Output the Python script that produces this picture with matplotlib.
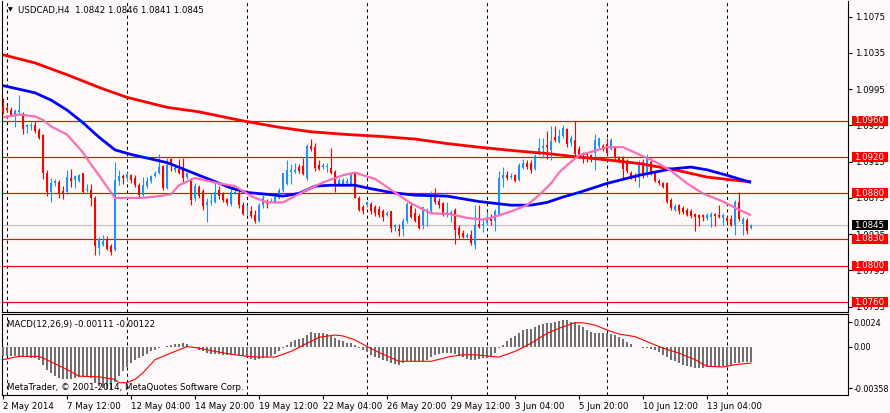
import numpy as np
import matplotlib.pyplot as plt
from matplotlib.patches import Rectangle
import matplotlib.transforms as mtransforms

# ---- candle data (USDCAD H4), bar 0 = 2 May 2014 ----
opens = [1.0975, 1.0974, 1.0972, 1.0967, 1.0970, 1.0968, 1.0953, 1.0954, 1.0956, 1.0950,
         1.0944, 1.0903, 1.0882, 1.0892, 1.0893, 1.0883, 1.0882, 1.0897, 1.0895, 1.0894,
         1.0902, 1.0884, 1.0884, 1.0875, 1.0820, 1.0823, 1.0830, 1.0822, 1.0818, 1.0894,
         1.0899, 1.0897, 1.0900, 1.0897, 1.0889, 1.0878, 1.0888, 1.0894, 1.0899, 1.0903,
         1.0910, 1.0886, 1.0918, 1.0906, 1.0907, 1.0907, 1.0898, 1.0896, 1.0875, 1.0887,
         1.0883, 1.0867, 1.0870, 1.0871, 1.0884, 1.0879, 1.0874, 1.0868, 1.0880, 1.0880,
         1.0867, 1.0860, 1.0861, 1.0856, 1.0850, 1.0867, 1.0872, 1.0871, 1.0871, 1.0875,
         1.0884, 1.0890, 1.0904, 1.0904, 1.0909, 1.0910, 1.0897, 1.0932, 1.0931, 1.0911,
         1.0909, 1.0909, 1.0908, 1.0904, 1.0890, 1.0890, 1.0891, 1.0890, 1.0903, 1.0875,
         1.0865, 1.0867, 1.0868, 1.0865, 1.0863, 1.0861, 1.0856, 1.0860, 1.0843, 1.0841,
         1.0841, 1.0849, 1.0866, 1.0858, 1.0855, 1.0845, 1.0859, 1.0860, 1.0879, 1.0872,
         1.0869, 1.0858, 1.0858, 1.0862, 1.0842, 1.0836, 1.0832, 1.0834, 1.0823, 1.0846,
         1.0845, 1.0847, 1.0854, 1.0850, 1.0856, 1.0897, 1.0900, 1.0898, 1.0900, 1.0895,
         1.0908, 1.0913, 1.0913, 1.0907, 1.0926, 1.0930, 1.0933, 1.0928, 1.0942, 1.0937,
         1.0943, 1.0951, 1.0936, 1.0939, 1.0929, 1.0925, 1.0924, 1.0922, 1.0925, 1.0932,
         1.0932, 1.0934, 1.0929, 1.0930, 1.0919, 1.0919, 1.0916, 1.0902, 1.0900, 1.0897,
         1.0915, 1.0900, 1.0915, 1.0902, 1.0894, 1.0892, 1.0891, 1.0873, 1.0862, 1.0867,
         1.0864, 1.0862, 1.0861, 1.0857, 1.0856, 1.0856, 1.0853, 1.0854, 1.0857, 1.0856,
         1.0853, 1.0853, 1.0852, 1.0845, 1.0870, 1.0846, 1.0851, 1.0842]
highs = [1.0985, 1.0978, 1.0975, 1.0973, 1.0989, 1.0970, 1.0957, 1.0959, 1.0960, 1.0952,
         1.0945, 1.0906, 1.0897, 1.0896, 1.0895, 1.0888, 1.0906, 1.0907, 1.0900, 1.0901,
         1.0903, 1.0890, 1.0890, 1.0877, 1.0832, 1.0834, 1.0833, 1.0824, 1.0915, 1.0906,
         1.0901, 1.0904, 1.0901, 1.0900, 1.0892, 1.0898, 1.0898, 1.0900, 1.0905, 1.0924,
         1.0911, 1.0919, 1.0919, 1.0910, 1.0918, 1.0919, 1.0903, 1.0897, 1.0891, 1.0889,
         1.0885, 1.0875, 1.0880, 1.0891, 1.0888, 1.0881, 1.0875, 1.0885, 1.0884, 1.0884,
         1.0871, 1.0867, 1.0866, 1.0862, 1.0869, 1.0878, 1.0874, 1.0875, 1.0877, 1.0886,
         1.0903, 1.0917, 1.0912, 1.0913, 1.0912, 1.0919, 1.0934, 1.0940, 1.0936, 1.0917,
         1.0913, 1.0913, 1.0930, 1.0906, 1.0897, 1.0897, 1.0897, 1.0902, 1.0903, 1.0877,
         1.0867, 1.0872, 1.0870, 1.0867, 1.0866, 1.0863, 1.0860, 1.0861, 1.0846, 1.0846,
         1.0853, 1.0870, 1.0871, 1.0864, 1.0857, 1.0865, 1.0864, 1.0883, 1.0886, 1.0875,
         1.0871, 1.0871, 1.0862, 1.0864, 1.0845, 1.0840, 1.0836, 1.0840, 1.0867, 1.0867,
         1.0853, 1.0859, 1.0857, 1.0863, 1.0905, 1.0909, 1.0905, 1.0902, 1.0901, 1.0913,
         1.0918, 1.0917, 1.0917, 1.0924, 1.0941, 1.0941, 1.0949, 1.0954, 1.0954, 1.0951,
         1.0955, 1.0952, 1.0944, 1.0960, 1.0932, 1.0926, 1.0925, 1.0924, 1.0946, 1.0941,
         1.0934, 1.0941, 1.0941, 1.0932, 1.0921, 1.0921, 1.0918, 1.0905, 1.0902, 1.0917,
         1.0918, 1.0923, 1.0919, 1.0905, 1.0896, 1.0893, 1.0893, 1.0875, 1.0868, 1.0868,
         1.0866, 1.0864, 1.0863, 1.0858, 1.0857, 1.0857, 1.0858, 1.0859, 1.0858, 1.0867,
         1.0858, 1.0855, 1.0856, 1.0873, 1.0881, 1.0854, 1.0853, 1.0846]
lows = [1.0968, 1.0970, 1.0965, 1.0953, 1.0968, 1.0946, 1.0947, 1.0950, 1.0947, 1.0940,
        1.0896, 1.0877, 1.0871, 1.0888, 1.0875, 1.0874, 1.0879, 1.0887, 1.0886, 1.0893,
        1.0880, 1.0881, 1.0866, 1.0812, 1.0812, 1.0822, 1.0818, 1.0812, 1.0816, 1.0889,
        1.0890, 1.0894, 1.0891, 1.0887, 1.0876, 1.0877, 1.0886, 1.0892, 1.0898, 1.0901,
        1.0884, 1.0885, 1.0905, 1.0904, 1.0901, 1.0891, 1.0896, 1.0867, 1.0872, 1.0875,
        1.0862, 1.0848, 1.0867, 1.0869, 1.0874, 1.0870, 1.0867, 1.0866, 1.0879, 1.0864,
        1.0856, 1.0856, 1.0853, 1.0847, 1.0848, 1.0864, 1.0864, 1.0870, 1.0869, 1.0874,
        1.0882, 1.0889, 1.0890, 1.0902, 1.0903, 1.0900, 1.0895, 1.0927, 1.0905, 1.0906,
        1.0907, 1.0904, 1.0901, 1.0882, 1.0888, 1.0888, 1.0890, 1.0888, 1.0875, 1.0860,
        1.0857, 1.0865, 1.0857, 1.0855, 1.0854, 1.0850, 1.0855, 1.0837, 1.0838, 1.0833,
        1.0833, 1.0847, 1.0853, 1.0848, 1.0841, 1.0841, 1.0844, 1.0858, 1.0868, 1.0864,
        1.0855, 1.0854, 1.0848, 1.0824, 1.0831, 1.0831, 1.0831, 1.0823, 1.0819, 1.0842,
        1.0837, 1.0845, 1.0845, 1.0838, 1.0855, 1.0887, 1.0895, 1.0896, 1.0893, 1.0894,
        1.0907, 1.0907, 1.0902, 1.0906, 1.0922, 1.0919, 1.0918, 1.0917, 1.0937, 1.0936,
        1.0941, 1.0931, 1.0932, 1.0919, 1.0919, 1.0914, 1.0915, 1.0915, 1.0906, 1.0930,
        1.0927, 1.0922, 1.0928, 1.0917, 1.0914, 1.0897, 1.0903, 1.0896, 1.0894, 1.0887,
        1.0897, 1.0898, 1.0900, 1.0893, 1.0889, 1.0886, 1.0869, 1.0862, 1.0860, 1.0857,
        1.0857, 1.0855, 1.0853, 1.0838, 1.0844, 1.0850, 1.0851, 1.0843, 1.0844, 1.0853,
        1.0845, 1.0848, 1.0844, 1.0834, 1.0850, 1.0834, 1.0835, 1.0841]
closes = [1.0970, 1.0972, 1.0967, 1.0971, 1.0972, 1.0951, 1.0955, 1.0956, 1.0949, 1.0941,
          1.0902, 1.0882, 1.0892, 1.0894, 1.0880, 1.0879, 1.0898, 1.0894, 1.0899, 1.0900,
          1.0882, 1.0885, 1.0875, 1.0822, 1.0830, 1.0827, 1.0819, 1.0815, 1.0895, 1.0899,
          1.0897, 1.0901, 1.0895, 1.0889, 1.0878, 1.0889, 1.0894, 1.0899, 1.0903, 1.0909,
          1.0886, 1.0911, 1.0911, 1.0908, 1.0903, 1.0897, 1.0902, 1.0873, 1.0888, 1.0877,
          1.0866, 1.0871, 1.0872, 1.0882, 1.0877, 1.0873, 1.0869, 1.0882, 1.0882, 1.0867,
          1.0857, 1.0861, 1.0855, 1.0850, 1.0867, 1.0875, 1.0868, 1.0872, 1.0876, 1.0884,
          1.0902, 1.0906, 1.0906, 1.0906, 1.0905, 1.0901, 1.0932, 1.0929, 1.0908, 1.0907,
          1.0911, 1.0910, 1.0902, 1.0889, 1.0895, 1.0895, 1.0894, 1.0900, 1.0875, 1.0862,
          1.0860, 1.0870, 1.0861, 1.0858, 1.0856, 1.0854, 1.0858, 1.0842, 1.0845, 1.0839,
          1.0850, 1.0868, 1.0854, 1.0850, 1.0842, 1.0865, 1.0861, 1.0879, 1.0870, 1.0867,
          1.0856, 1.0859, 1.0859, 1.0840, 1.0834, 1.0832, 1.0834, 1.0825, 1.0845, 1.0843,
          1.0846, 1.0854, 1.0849, 1.0861, 1.0897, 1.0900, 1.0897, 1.0899, 1.0894, 1.0911,
          1.0913, 1.0909, 1.0906, 1.0921, 1.0930, 1.0932, 1.0931, 1.0938, 1.0939, 1.0943,
          1.0952, 1.0934, 1.0941, 1.0923, 1.0921, 1.0923, 1.0922, 1.0920, 1.0939, 1.0941,
          1.0929, 1.0925, 1.0939, 1.0919, 1.0916, 1.0907, 1.0905, 1.0898, 1.0897, 1.0913,
          1.0899, 1.0919, 1.0903, 1.0894, 1.0892, 1.0887, 1.0871, 1.0864, 1.0866, 1.0861,
          1.0859, 1.0856, 1.0855, 1.0854, 1.0853, 1.0854, 1.0856, 1.0857, 1.0855, 1.0854,
          1.0856, 1.0850, 1.0845, 1.0871, 1.0852, 1.0852, 1.0838, 1.0845]

# ---- moving averages (bar index, price) ----
ma_red_bar = [0, 8, 16, 24, 31, 41, 49, 60, 69, 77, 86, 94, 103, 111, 119, 128, 136, 144,
              151, 159, 168, 176, 184, 187]
ma_red_val = [1.1033, 1.1024, 1.1011, 1.0997, 1.0986, 1.0975, 1.0970, 1.0960, 1.0953, 1.0948,
              1.0945, 1.0943, 1.0940, 1.0935, 1.0931, 1.0927, 1.0924, 1.0920, 1.0917, 1.0913,
              1.0906, 1.0898, 1.0894, 1.0893]
ma_blue_bar = [0, 8, 12, 16, 20, 22, 24, 28, 32, 41, 49, 57, 61, 66, 70, 74, 78, 82, 88, 91,
               97, 103, 111, 119, 127, 132, 136, 140, 144, 151, 159, 167, 172, 176, 181, 187]
ma_blue_val = [1.0999, 1.0991, 1.0983, 1.0972, 1.0958, 1.0950, 1.0942, 1.0928, 1.0923, 1.0914,
               1.0900, 1.0886, 1.0881, 1.0879, 1.0877, 1.0880, 1.0888, 1.0889, 1.0889, 1.0886,
               1.0881, 1.0878, 1.0877, 1.0871, 1.0867, 1.0867, 1.0870, 1.0876, 1.0881, 1.0891,
               1.0900, 1.0907, 1.0909, 1.0906, 1.0900, 1.0892]
ma_pink_bar = [0, 4, 8, 10, 12, 16, 20, 22, 24, 27, 28, 31, 35, 39, 42, 44, 46, 48, 50, 54,
               58, 62, 66, 70, 73, 76, 80, 85, 88, 90, 93, 97, 102, 107, 112, 116, 120, 122,
               127, 131, 134, 137, 139, 141, 144, 148, 151, 155, 159, 163, 167, 171, 175, 180,
               184, 187]
ma_pink_val = [1.0964, 1.0967, 1.0965, 1.0961, 1.0954, 1.0945, 1.0925, 1.0912, 1.0900, 1.0881,
               1.0875, 1.0875, 1.0875, 1.0877, 1.0879, 1.0889, 1.0893, 1.0897, 1.0895, 1.0891,
               1.0888, 1.0877, 1.0870, 1.0870, 1.0877, 1.0884, 1.0892, 1.0900, 1.0903, 1.0900,
               1.0896, 1.0884, 1.0869, 1.0858, 1.0857, 1.0853, 1.0851, 1.0853, 1.0860, 1.0867,
               1.0878, 1.0891, 1.0903, 1.0911, 1.0922, 1.0927, 1.0931, 1.0931, 1.0923, 1.0915,
               1.0905, 1.0891, 1.0880, 1.0871, 1.0862, 1.0856]

# ---- MACD(12,26,9) ----
macd_hist = [-0.00073, -0.00068, -0.00068, -0.00068, -0.00073, -0.00078, -0.00080, -0.00085, -0.00085, -0.00097,
             -0.00134, -0.00170, -0.00194, -0.00219, -0.00231, -0.00243, -0.00243, -0.00238, -0.00231, -0.00224,
             -0.00219, -0.00219, -0.00231, -0.00267, -0.00292, -0.00304, -0.00311, -0.00316, -0.00262, -0.00219,
             -0.00182, -0.00151, -0.00122, -0.00097, -0.00085, -0.00073, -0.00053, -0.00036, -0.00024, -0.00012,
             -0.00007, 0.00005, 0.00012, 0.00019, 0.00019, 0.00024, 0.00017, -0.00007, -0.00012, -0.00024,
             -0.00036, -0.00049, -0.00053, -0.00053, -0.00053, -0.00061, -0.00061, -0.00061, -0.00053, -0.00061,
             -0.00073, -0.00080, -0.00092, -0.00097, -0.00092, -0.00085, -0.00078, -0.00068, -0.00053, -0.00036,
             -0.00012, 0.00012, 0.00036, 0.00049, 0.00053, 0.00061, 0.00085, 0.00109, 0.00102, 0.00102,
             0.00097, 0.00092, 0.00085, 0.00061, 0.00049, 0.00041, 0.00029, 0.00024, 0.00012, -0.00012,
             -0.00029, -0.00044, -0.00061, -0.00078, -0.00087, -0.00097, -0.00104, -0.00122, -0.00126, -0.00134,
             -0.00122, -0.00109, -0.00109, -0.00109, -0.00109, -0.00104, -0.00097, -0.00078, -0.00063, -0.00053,
             -0.00049, -0.00049, -0.00049, -0.00053, -0.00068, -0.00078, -0.00092, -0.00102, -0.00097, -0.00092,
             -0.00087, -0.00085, -0.00073, -0.00049, -0.00012, 0.00012, 0.00044, 0.00061, 0.00078, 0.00102,
             0.00122, 0.00126, 0.00126, 0.00141, 0.00158, 0.00165, 0.00170, 0.00175, 0.00182, 0.00190,
             0.00199, 0.00194, 0.00182, 0.00182, 0.00158, 0.00141, 0.00122, 0.00109, 0.00102, 0.00102,
             0.00102, 0.00102, 0.00092, 0.00085, 0.00068, 0.00053, 0.00036, 0.00019, -0.00007, -0.00007,
             -0.00012, -0.00012, -0.00019, -0.00029, -0.00044, -0.00061, -0.00078, -0.00097, -0.00109, -0.00122,
             -0.00134, -0.00141, -0.00151, -0.00158, -0.00158, -0.00158, -0.00153, -0.00151, -0.00151, -0.00151,
             -0.00146, -0.00146, -0.00141, -0.00122, -0.00122, -0.00117, -0.00117, -0.00111]
signal_bar = [0, 4, 9, 10, 16, 19, 24, 28, 29, 31, 33, 35, 38, 43, 46, 49, 53, 58, 61, 64,
              68, 72, 76, 79, 83, 85, 88, 91, 94, 99, 103, 107, 112, 115, 118, 122, 124, 128,
              132, 136, 140, 143, 145, 148, 151, 154, 158, 162, 165, 169, 173, 176, 180, 183, 187]
signal_val = [-0.00097, -0.00073, -0.00073, -0.00085, -0.00170, -0.00219, -0.00224, -0.00243,
              -0.00267, -0.00267, -0.00243, -0.00194, -0.00097, -0.00036, 0.0, -0.00012, -0.00036,
              -0.00061, -0.00073, -0.00078, -0.00078, -0.00036, 0.00024, 0.00068, 0.00085, 0.00078,
              0.00049, 0.0, -0.00044, -0.00109, -0.00109, -0.00109, -0.00073, -0.00061, -0.00061,
              -0.00073, -0.00078, -0.00036, 0.00024, 0.00097, 0.00146, 0.00175, 0.00175, 0.00158,
              0.00122, 0.00092, 0.00073, 0.00024, -0.00012, -0.00049, -0.00097, -0.00146, -0.00151,
              -0.00134, -0.00122]

levels = [1.0960, 1.0920, 1.0880, 1.0830, 1.0800, 1.0760]
bid = 1.0845
price_ticks = [1.1075, 1.1035, 1.0995, 1.0955, 1.0915, 1.0875, 1.0835, 1.0795, 1.0755]
date_bars = [0, 16, 32, 48, 64, 80, 96, 112, 128, 144, 160, 176]
date_labels = ['2 May 2014', '7 May 12:00', '12 May 04:00', '14 May 20:00', '19 May 12:00',
               '22 May 04:00', '26 May 20:00', '29 May 12:00', '3 Jun 04:00', '5 Jun 20:00',
               '10 Jun 12:00', '13 Jun 04:00']
grid_bars = [1, 31, 61, 91, 121, 151, 181]

bg = '#FFFAF9'
bull = '#1E90FF'
bear = '#FF0000'
plt.rcParams['font.family'] = 'DejaVu Sans'
fs = 6.2

W, H = 890, 413
fig = plt.figure(figsize=(W / 100, H / 100), dpi=100, facecolor=bg)
ax = fig.add_axes([2 / W, 1 - 311.7 / H, 846 / W, 311.2 / H])
ax2 = fig.add_axes([2 / W, 1 - 395 / H, 846 / W, 81 / H])
for a in (ax, ax2):
    a.set_facecolor(bg)
    for s in a.spines.values():
        s.set_color('black')
        s.set_linewidth(0.8)
    a.set_xlim(-0.25, 211.25)
    for g in grid_bars:
        a.axvline(g, color='black', lw=0.75, ls=(0, (3, 3)), zorder=1)
ax.spines['top'].set_visible(False)

o = np.array(opens)
h = np.array(highs)
l = np.array(lows)
c = np.array(closes)
x = np.arange(len(o))
cols = np.where(c >= o, bull, bear)

# levels & bid line
for lv in levels:
    ax.axhline(lv, color='red', lw=0.85, zorder=2)
ax.axhline(bid, color='#C0C0C0', lw=0.85, zorder=2)

ax.vlines(x, l, h, colors=cols, lw=0.8, zorder=3)
body = np.maximum(np.abs(c - o), 0.00009)
ax.bar(x, body, bottom=np.minimum(o, c), width=0.72, color=cols, lw=0, zorder=4)

ax.plot(ma_red_bar, ma_red_val, color='#FF0000', lw=2.0, zorder=5, solid_capstyle='butt')
ax.plot(ma_blue_bar, ma_blue_val, color='#0000FF', lw=2.0, zorder=6, solid_capstyle='butt')
ax.plot(ma_pink_bar, ma_pink_val, color='#FF6EB4', lw=1.6, zorder=7, solid_capstyle='butt')

ax.set_ylim(1.07494, 1.10929)
ax.yaxis.tick_right()
ax.set_yticks(price_ticks)
ax.set_yticklabels(['%.4f' % p for p in price_ticks])
ax.tick_params(axis='y', direction='out', length=3, width=0.8, pad=2, labelsize=fs)
ax.set_xticks([])

# price labels on the right scale
trans = mtransforms.blended_transform_factory(ax.transAxes, ax.transData)
box_h = 10 / 9070
for lv in levels + [bid]:
    fc = 'black' if lv == bid else '#FF0000'
    ax.add_patch(Rectangle((1.0048, lv - box_h / 2), 0.0426, box_h, transform=trans,
                           facecolor=fc, edgecolor='none', clip_on=False, zorder=10))
    ax.text(1.0075, lv, '%.4f' % lv, transform=trans, color='white', fontsize=fs,
            va='center', ha='left', zorder=11, clip_on=False)

fig.text(8 / W, 1 - 10 / H, '\u25bc', fontsize=4.5, va='center', ha='left')
fig.text(18 / W, 1 - 11 / H, 'USDCAD,H4  1.0842 1.0846 1.0841 1.0845', fontsize=fs,
         va='center', ha='left')

# MACD panel
ax2.bar(x, macd_hist, width=0.6, color='#707070', lw=0, zorder=3, antialiased=False)
ax2.plot(signal_bar, signal_val, color='#FF0000', lw=0.8, zorder=4)
ax2.set_ylim(-0.00358, 0.0024)
ax2.yaxis.tick_right()
ax2.set_yticks([0.0018, 0.0, -0.00309])
ax2.set_yticklabels(['0.0024', '0.00', '-0.00358'])
ax2.tick_params(axis='y', direction='out', length=3, width=0.8, pad=1, labelsize=5.8)
ax2.set_xticks(date_bars)
ax2.set_xticklabels(date_labels, ha='left')
ax2.tick_params(axis='x', direction='out', length=3, width=0.8, pad=2, labelsize=fs)
ax2.text(5 / 846, 1 - 10 / 81, 'MACD(12,26,9) -0.00111 -0.00122', transform=ax2.transAxes,
         fontsize=fs, va='center', ha='left', zorder=8)
ax2.text(5 / 846, 1 - 74 / 81, 'MetaTrader, \u00a9 2001-2014, MetaQuotes Software Corp.',
         transform=ax2.transAxes, fontsize=fs, va='center', ha='left', zorder=8)

fig.savefig('out.png', dpi=100, facecolor=bg)
